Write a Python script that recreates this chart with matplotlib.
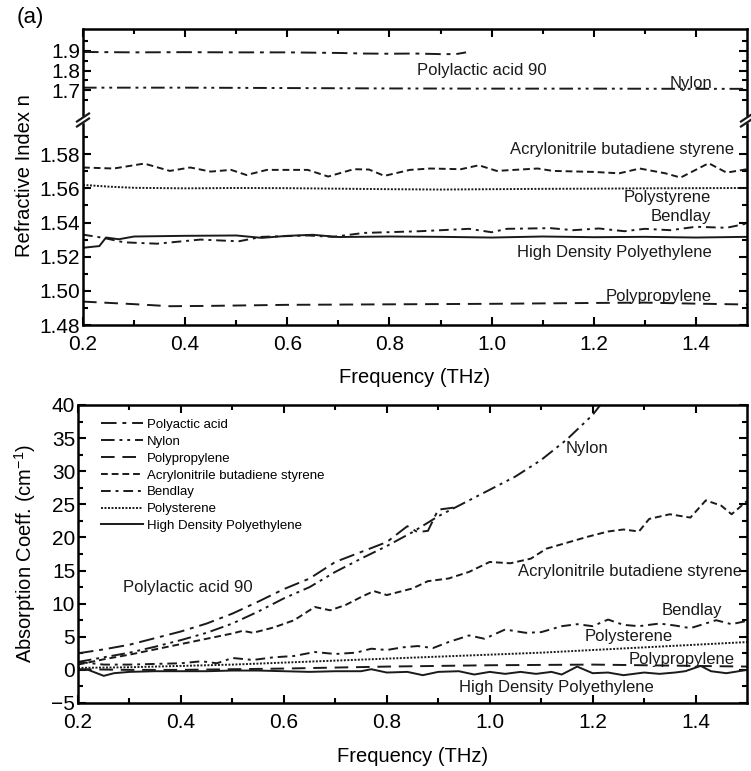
import matplotlib
matplotlib.use("Agg")
import matplotlib.pyplot as plt
from matplotlib.ticker import MultipleLocator, FixedLocator
from matplotlib.lines import Line2D

plt.rcParams['font.family'] = ['Liberation Sans', 'DejaVu Sans']
plt.rcParams['mathtext.fontset'] = 'custom'
plt.rcParams['mathtext.rm'] = 'Liberation Sans'
plt.rcParams['mathtext.it'] = 'Liberation Sans'

# ---------------- data: refractive index (top panel) ----------------
pla_n_f = [0.20, 0.30, 0.40, 0.50, 0.60, 0.70, 0.75, 0.80, 0.85, 0.90, 0.93, 0.95]
pla_n = [1.895, 1.893, 1.894, 1.893, 1.893, 1.890, 1.887, 1.886, 1.887, 1.884, 1.884, 1.893]

nylon_n_f = [0.2, 0.4, 0.6, 0.8, 1.0, 1.2, 1.4, 1.5]
nylon_n = [1.712, 1.712, 1.710, 1.708, 1.707, 1.707, 1.706, 1.706]

abs_n_f = [0.20, 0.26, 0.32, 0.37, 0.41, 0.45, 0.49, 0.52, 0.56, 0.64, 0.68, 0.73, 0.76, 0.79,
           0.84, 0.88, 0.94, 0.975, 1.01, 1.09, 1.12, 1.20, 1.25, 1.29, 1.34, 1.37, 1.425, 1.46, 1.50]
abs_n = [1.5722, 1.5716, 1.5745, 1.5702, 1.5722, 1.5698, 1.5708, 1.5678, 1.5708, 1.5708, 1.5669,
         1.5712, 1.5710, 1.5673, 1.5708, 1.5716, 1.5712, 1.5735, 1.5702, 1.5716, 1.5702, 1.5696,
         1.5688, 1.5716, 1.5688, 1.5663, 1.5747, 1.5692, 1.5712]

ps_n_f = [0.2, 0.25, 0.3, 0.4, 0.5, 0.6, 0.7, 0.8, 0.9, 1.0, 1.1, 1.2, 1.3, 1.4, 1.5]
ps_n = [1.5620, 1.5610, 1.5603, 1.5600, 1.5602, 1.5601, 1.5598, 1.5595, 1.5593, 1.5595,
        1.5597, 1.5598, 1.5600, 1.5601, 1.5602]

bend_n_f = [0.20, 0.24, 0.28, 0.345, 0.43, 0.505, 0.55, 0.64, 0.69, 0.75, 0.86, 0.956, 1.0,
            1.03, 1.115, 1.16, 1.21, 1.26, 1.30, 1.35, 1.40, 1.46, 1.50]
bend_n = [1.5329, 1.5310, 1.5284, 1.5276, 1.5300, 1.5290, 1.5316, 1.5324, 1.5316, 1.5339,
          1.5349, 1.5363, 1.5343, 1.5363, 1.5367, 1.5355, 1.5365, 1.5349, 1.5363, 1.5355,
          1.5375, 1.5369, 1.5394]

hdpe_n_f = [0.20, 0.232, 0.245, 0.27, 0.30, 0.40, 0.50, 0.55, 0.60, 0.65, 0.70, 0.80, 0.90,
            1.00, 1.10, 1.20, 1.30, 1.40, 1.50]
hdpe_n = [1.5252, 1.5262, 1.5312, 1.5302, 1.5318, 1.5322, 1.5324, 1.5310, 1.5322, 1.5328,
          1.5315, 1.5318, 1.5316, 1.5312, 1.5318, 1.5314, 1.5316, 1.5312, 1.5316]

pp_n_f = [0.2, 0.3, 0.37, 0.45, 0.6, 0.8, 1.0, 1.2, 1.3, 1.4, 1.5]
pp_n = [1.4937, 1.4922, 1.4910, 1.4912, 1.4918, 1.4921, 1.4924, 1.4929, 1.4931, 1.4925, 1.4920]

# ---------------- data: absorption coefficient (bottom panel) ----------------
pla_a_f = [0.20, 0.25, 0.30, 0.35, 0.40, 0.45, 0.50, 0.55, 0.60, 0.65, 0.70, 0.75, 0.80,
           0.84, 0.86, 0.88, 0.90, 0.93]
pla_a = [2.5, 3.1, 3.8, 4.8, 5.8, 7.0, 8.5, 10.3, 12.2, 13.8, 16.3, 17.8, 19.3, 21.7, 20.8,
         21.0, 24.2, 24.5]

nylon_a_f = [0.20, 0.25, 0.30, 0.35, 0.40, 0.45, 0.50, 0.55, 0.60, 0.65, 0.70, 0.75, 0.80,
             0.85, 0.90, 0.95, 1.00, 1.05, 1.10, 1.15, 1.20, 1.22]
nylon_a = [1.2, 1.9, 2.6, 3.5, 4.5, 5.6, 7.0, 8.8, 10.8, 12.5, 14.8, 16.8, 18.7, 20.8, 23.2,
           25.2, 27.2, 29.2, 31.7, 34.8, 38.5, 40.5]

abs_a_f = [0.20, 0.25, 0.30, 0.35, 0.40, 0.45, 0.50, 0.52, 0.54, 0.58, 0.62, 0.66, 0.69, 0.72,
           0.75, 0.775, 0.80, 0.85, 0.88, 0.92, 0.96, 1.00, 1.04, 1.08, 1.11, 1.15, 1.19, 1.23,
           1.26, 1.29, 1.31, 1.35, 1.39, 1.42, 1.45, 1.47, 1.50]
abs_a = [0.8, 1.6, 2.3, 3.1, 3.9, 4.7, 5.5, 5.9, 5.6, 6.4, 7.5, 9.5, 9.0, 9.8, 11.0, 11.9,
         11.3, 12.3, 13.4, 13.8, 14.8, 16.3, 16.1, 16.8, 18.3, 19.2, 20.1, 20.9, 21.2, 20.9,
         22.8, 23.5, 23.0, 25.6, 24.8, 23.5, 25.5]

bend_a_f = [0.20, 0.25, 0.30, 0.35, 0.40, 0.44, 0.47, 0.50, 0.54, 0.58, 0.62, 0.66, 0.70,
            0.74, 0.77, 0.80, 0.83, 0.86, 0.89, 0.92, 0.96, 0.99, 1.03, 1.07, 1.10, 1.14,
            1.17, 1.20, 1.23, 1.26, 1.29, 1.33, 1.36, 1.39, 1.44, 1.47, 1.50]
bend_a = [1.2, 0.8, 0.8, 0.9, 1.0, 1.3, 1.0, 1.8, 1.5, 1.9, 2.1, 2.7, 2.4, 2.6, 3.2, 3.0, 3.4,
          3.6, 3.3, 4.2, 5.2, 4.7, 6.1, 5.6, 5.7, 6.6, 6.9, 6.6, 7.6, 6.8, 6.6, 7.0, 6.7, 6.3,
          7.5, 6.9, 7.4]

ps_a_f = [0.2, 0.3, 0.4, 0.5, 0.6, 0.7, 0.8, 0.9, 1.0, 1.1, 1.2, 1.3, 1.4, 1.5]
ps_a = [0.3, 0.4, 0.6, 0.8, 1.1, 1.4, 1.7, 2.0, 2.3, 2.6, 3.0, 3.4, 3.8, 4.2]

pp_a_f = [0.2, 0.3, 0.4, 0.5, 0.6, 0.7, 0.8, 0.9, 1.0, 1.1, 1.2, 1.3, 1.4, 1.5]
pp_a = [0.1, 0.0, 0.0, 0.1, 0.2, 0.35, 0.5, 0.6, 0.7, 0.75, 0.8, 0.7, 0.6, 0.5]

hdpe_a_f = [0.20, 0.22, 0.25, 0.27, 0.30, 0.35, 0.40, 0.45, 0.50, 0.55, 0.60, 0.65, 0.70,
            0.75, 0.77, 0.80, 0.84, 0.87, 0.90, 0.94, 0.97, 1.00, 1.03, 1.06, 1.09, 1.12,
            1.14, 1.17, 1.20, 1.23, 1.26, 1.30, 1.33, 1.36, 1.38, 1.41, 1.43, 1.46, 1.50]
hdpe_a = [0.0, 0.0, -0.9, -0.5, -0.3, -0.2, -0.2, -0.2, -0.1, -0.1, -0.2, -0.3, -0.2, -0.2,
          0.1, -0.4, -0.3, -0.8, -0.3, -0.2, -0.7, -0.3, -0.6, -0.3, -0.6, -0.3, -0.7, 0.5,
          -0.5, -0.4, -0.8, -0.4, -0.6, -0.4, -0.2, 0.6, -0.2, -0.5, 0.0]

legend_labels = ["Polyactic acid", "Nylon", "Polypropylene", "Acrylonitrile butadiene styrene",
                 "Bendlay", "Polysterene", "High Density Polyethylene"]

# ---------------- styles ----------------
C = '#1a1a1a'
LW = 1.4
ST_PLA = (0, (8, 3, 2, 3))
ST_NYL = (0, (7, 2.5, 1.5, 2.5, 1.5, 2.5))
ST_PP = (0, (7, 4))
ST_ABS = (0, (3.5, 2))
ST_BEN = (0, (5, 2.5, 1.5, 2.5))
ST_PS = (0, (1, 0.8))
ST_HD = '-'

W, H = 751, 771
fig = plt.figure(figsize=(W / 100, H / 100), dpi=100)


def px_rect(l, t, r, b):
    return [l / W, 1 - b / H, (r - l) / W, (b - t) / H]


TICKFS = 15
LABFS = 14.5
ANNFS = 12


def style(ax, top=True, bottom=True):
    for s in ax.spines.values():
        s.set_linewidth(1.8)
    ax.tick_params(which='both', direction='in', top=top, bottom=bottom, right=True, left=True,
                   labelsize=TICKFS, width=1.5)
    ax.tick_params(axis='y', pad=2)
    ax.tick_params(axis='x', pad=7)
    ax.tick_params(which='major', length=6)
    ax.tick_params(which='minor', length=3.5)


# top panel (broken axis)
ax_u = fig.add_axes(px_rect(83, 29, 747, 120))
ax_l = fig.add_axes(px_rect(83, 120, 747, 325))

ax_u.plot(pla_n_f, pla_n, color=C, lw=LW, ls=ST_PLA)
ax_u.plot(nylon_n_f, nylon_n, color=C, lw=LW, ls=ST_NYL)
ax_l.plot(abs_n_f, abs_n, color=C, lw=LW, ls=ST_ABS)
ax_l.plot(ps_n_f, ps_n, color=C, lw=LW, ls=ST_PS)
ax_l.plot(bend_n_f, bend_n, color=C, lw=LW, ls=ST_BEN)
ax_l.plot(hdpe_n_f, hdpe_n, color=C, lw=LW, ls=ST_HD)
ax_l.plot(pp_n_f, pp_n, color=C, lw=LW, ls=ST_PP)
for ax in (ax_u, ax_l):
    ax.set_xlim(0.2, 1.5)
    ax.xaxis.set_major_locator(FixedLocator([0.2, 0.4, 0.6, 0.8, 1.0, 1.2, 1.4]))
    ax.xaxis.set_minor_locator(FixedLocator([0.3, 0.5, 0.7, 0.9, 1.1, 1.3]))

# pixel mapping upper: 1.9 at y=51, 1.7 at y=90
up_per_px = 0.2 / 39.0
ax_u.set_ylim(1.7 - (120 - 90) * up_per_px, 1.9 + (51 - 29) * up_per_px)
ax_u.yaxis.set_major_locator(FixedLocator([1.7, 1.8, 1.9]))
ax_u.yaxis.set_minor_locator(FixedLocator([1.65, 1.75, 1.85, 1.95]))
ax_u.set_yticklabels(['1.7', '1.8', '1.9'])
ax_u.spines['bottom'].set_visible(False)
style(ax_u, top=True, bottom=False)
ax_u.tick_params(labelbottom=False)

ax_l.set_ylim(1.48, 1.60)
ax_l.yaxis.set_major_locator(FixedLocator([1.48, 1.50, 1.52, 1.54, 1.56, 1.58]))
ax_l.yaxis.set_minor_locator(FixedLocator([1.49, 1.51, 1.53, 1.55, 1.57, 1.59]))
ax_l.set_yticklabels(['1.48', '1.50', '1.52', '1.54', '1.56', '1.58'])
ax_l.set_xticklabels(['0.2', '0.4', '0.6', '0.8', '1.0', '1.2', '1.4'])
ax_l.spines['top'].set_visible(False)
style(ax_l, top=False, bottom=True)

# break marks on the spines
for xs in (83, 747):
    fig.patches.append(plt.Rectangle(((xs - 5) / W, 1 - 122 / H), 10 / W, 5 / H,
                                     transform=fig.transFigure, color='white', zorder=10))
    for dy in (-2.5, 2.5):
        fig.add_artist(Line2D([(xs - 6) / W, (xs + 6) / W],
                              [1 - (120 + dy + 4) / H, 1 - (120 + dy - 4) / H],
                              transform=fig.transFigure, color=C, lw=1.6, zorder=11))

ann_top = dict(fontsize=ANNFS, color=C, ha='center', va='center')
ax_u.text(0.98, 1.80, "Polylactic acid 90", **ann_top)
ax_u.text(1.39, 1.735, "Nylon", **ann_top)
ax_l.text(1.255, 1.583, "Acrylonitrile butadiene styrene", **ann_top)
ax_l.text(1.343, 1.5547, "Polystyrene", **ann_top)
ax_l.text(1.371, 1.5435, "Bendlay", **ann_top)
ax_l.text(1.24, 1.5224, "High Density Polyethylene", **ann_top)
ax_l.text(1.326, 1.4968, "Polypropylene", **ann_top)

ax_l.set_xlabel("Frequency (THz)", fontsize=LABFS)
ax_l.xaxis.set_label_coords(0.5, -52 / 205)
ax_l.xaxis.label.set_va('center')

fig.text(25 / W, 1 - 176 / H, "Refractive Index n", rotation=90, fontsize=LABFS,
         ha='center', va='center')
fig.text(30 / W, 1 - 18 / H, "(a)", fontsize=16, ha='center', va='center')

# bottom panel
ax2 = fig.add_axes(px_rect(78, 405, 747, 703))
h_pla, = ax2.plot(pla_a_f, pla_a, color=C, lw=LW, ls=ST_PLA)
h_nyl, = ax2.plot(nylon_a_f, nylon_a, color=C, lw=LW, ls=ST_NYL)
h_pp, = ax2.plot(pp_a_f, pp_a, color=C, lw=LW, ls=ST_PP)
h_abs, = ax2.plot(abs_a_f, abs_a, color=C, lw=LW, ls=ST_ABS)
h_ben, = ax2.plot(bend_a_f, bend_a, color=C, lw=LW, ls=ST_BEN)
h_ps, = ax2.plot(ps_a_f, ps_a, color=C, lw=LW, ls=ST_PS)
h_hd, = ax2.plot(hdpe_a_f, hdpe_a, color=C, lw=LW, ls=ST_HD)
ax2.set_xlim(0.2, 1.5)
ax2.set_ylim(-5, 40)
ax2.xaxis.set_major_locator(FixedLocator([0.2, 0.4, 0.6, 0.8, 1.0, 1.2, 1.4]))
ax2.xaxis.set_minor_locator(FixedLocator([0.3, 0.5, 0.7, 0.9, 1.1, 1.3]))
ax2.set_xticklabels(['0.2', '0.4', '0.6', '0.8', '1.0', '1.2', '1.4'])
ax2.yaxis.set_major_locator(MultipleLocator(5))
ax2.yaxis.set_minor_locator(MultipleLocator(2.5))
style(ax2)

leg = ax2.legend([h_pla, h_nyl, h_pp, h_abs, h_ben, h_ps, h_hd], legend_labels,
                 loc='upper left', bbox_to_anchor=(0.02, 0.985), frameon=False,
                 prop={'family': ['Liberation Sans', 'DejaVu Sans'], 'size': 9.5},
                 handlelength=3.2, handletextpad=0.3, labelspacing=0.35, borderpad=0.2)

ann = dict(fontsize=ANNFS, color=C, ha='center', va='center')
ax2.text(1.19, 33.5, "Nylon", **ann)
ax2.text(1.273, 14.8, "Acrylonitrile butadiene styrene", **ann)
ax2.text(0.414, 12.4, "Polylactic acid 90", **ann)
ax2.text(1.393, 9.0, "Bendlay", **ann)
ax2.text(1.271, 5.0, "Polysterene", **ann)
ax2.text(1.372, 1.6, "Polypropylene", **ann)
ax2.text(1.129, -2.7, "High Density Polyethylene", **ann)

ax2.set_xlabel("Frequency (THz)", fontsize=LABFS)
ax2.xaxis.set_label_coords(0.5, -54 / 298)
ax2.xaxis.label.set_va('center')
ax2.set_ylabel("Absorption Coeff. (cm$^{-1}$)", fontsize=LABFS)
ax2.yaxis.set_label_coords(-53 / 669, 0.5)
ax2.yaxis.label.set_va('center')

fig.savefig("out.png", dpi=100)
